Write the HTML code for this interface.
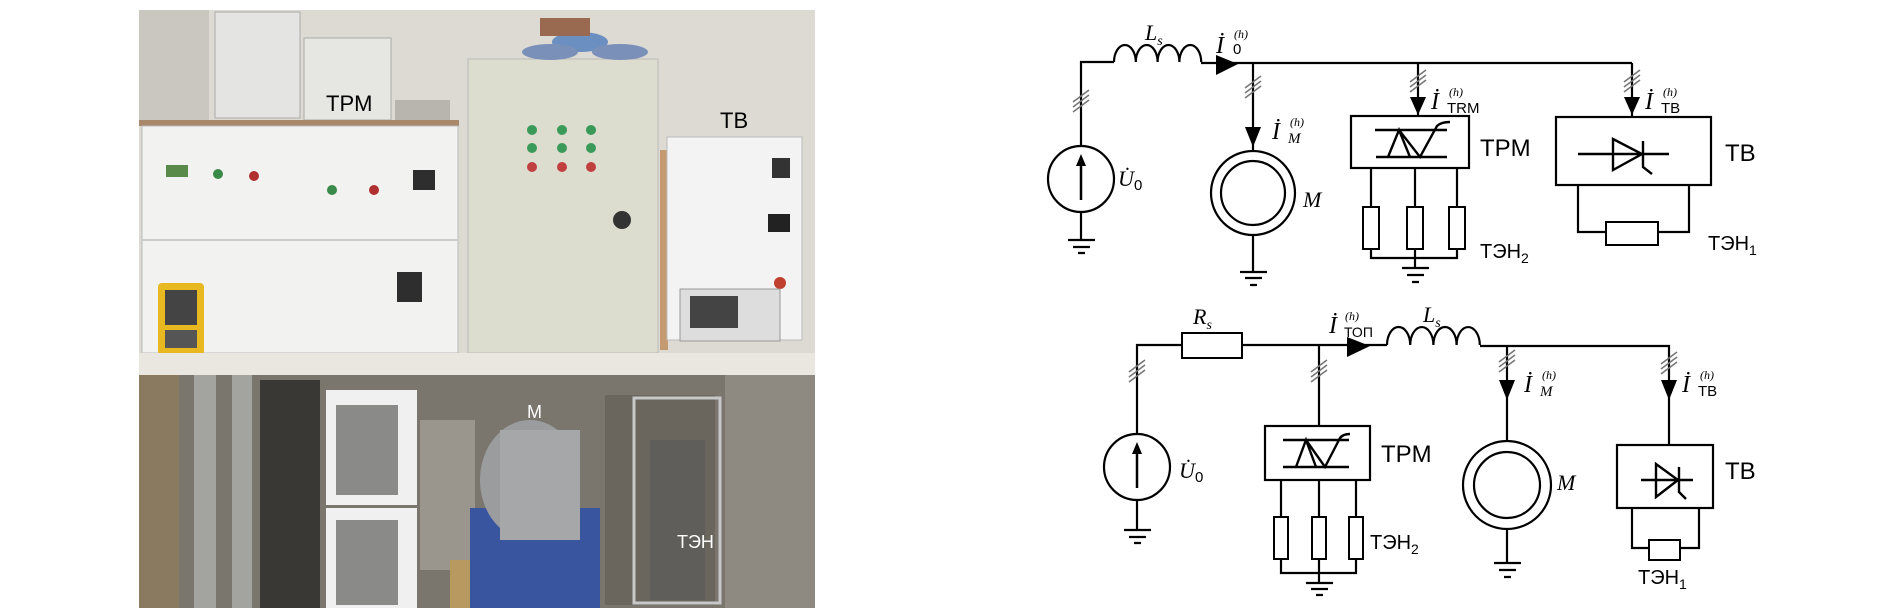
<!DOCTYPE html>
<html><head><meta charset="utf-8"><style>
html,body{margin:0;padding:0;background:#fff;}
svg{display:block}
.w{stroke:#000;stroke-width:2.2;fill:none}
.h{stroke:#777;stroke-width:1.6}
.s{font-family:"Liberation Sans",sans-serif}
.i{font-family:"Liberation Serif",serif;font-style:italic}
</style></head><body>
<svg width="1903" height="611" viewBox="0 0 1903 611" xmlns="http://www.w3.org/2000/svg">
<!-- PHOTO -->
<rect x="139" y="10" width="676" height="598" fill="#cfccc4"/>
<rect x="139" y="10" width="676" height="345" fill="#dcdad3"/>
<rect x="139" y="10" width="70" height="110" fill="#c9c7c0"/>
<rect x="215" y="12" width="85" height="106" fill="#e4e4e2" stroke="#aaa"/>
<rect x="304" y="38" width="87" height="82" fill="#e6e6e3" stroke="#aaa"/>
<rect x="395" y="100" width="55" height="20" fill="#b8b5ae"/>
<text x="326" y="111" class="s" font-size="22">TPM</text>
<rect x="139" y="120" width="320" height="6" fill="#a9876a"/>
<rect x="142" y="126" width="316" height="227" fill="#f2f2f0" stroke="#bbb"/>
<line x1="142" y1="240" x2="458" y2="240" stroke="#ccc" stroke-width="2"/>
<g fill="#2e2e2e"><rect x="166" y="165" width="22" height="12" fill="#5a8a4a"/><rect x="413" y="170" width="22" height="20"/><rect x="397" y="272" width="25" height="30"/></g>
<g fill="#3a8a4a"><circle cx="218" cy="174" r="5"/><circle cx="332" cy="190" r="5"/></g>
<g fill="#b03030"><circle cx="254" cy="176" r="5"/><circle cx="374" cy="190" r="5"/></g>
<rect x="158" y="283" width="46" height="72" rx="4" fill="#e8b820"/>
<rect x="165" y="290" width="32" height="35" fill="#444"/>
<rect x="165" y="330" width="32" height="18" fill="#555"/>
<rect x="468" y="59" width="190" height="294" fill="#dcdccf" stroke="#bbb"/>
<g fill="#3a9a5a"><circle cx="532" cy="130" r="5"/><circle cx="562" cy="130" r="5"/><circle cx="591" cy="130" r="5"/><circle cx="532" cy="148" r="5"/><circle cx="562" cy="148" r="5"/><circle cx="591" cy="148" r="5"/></g>
<g fill="#c04040"><circle cx="532" cy="167" r="5"/><circle cx="562" cy="167" r="5"/><circle cx="591" cy="167" r="5"/></g>
<circle cx="622" cy="220" r="9" fill="#333"/>
<ellipse cx="580" cy="42" rx="28" ry="10" fill="#6a8fc0"/><ellipse cx="550" cy="52" rx="28" ry="8" fill="#7a90b8"/><ellipse cx="620" cy="52" rx="28" ry="8" fill="#7a90b8"/>
<rect x="540" y="18" width="50" height="18" fill="#9a6a50"/>
<rect x="660" y="150" width="8" height="200" fill="#c69a70"/>
<text x="720" y="128" class="s" font-size="22">TB</text>
<rect x="667" y="137" width="135" height="203" fill="#f3f3f3" stroke="#bbb"/>
<rect x="772" y="158" width="18" height="20" fill="#333"/><rect x="768" y="214" width="22" height="18" fill="#222"/><circle cx="780" cy="283" r="6" fill="#c04030"/>
<rect x="680" y="289" width="100" height="52" fill="#ddd" stroke="#999"/><rect x="690" y="296" width="48" height="32" fill="#444"/>
<rect x="139" y="353" width="676" height="22" fill="#e9e7e0"/>
<rect x="139" y="375" width="676" height="233" fill="#7a766e"/>
<rect x="139" y="375" width="40" height="233" fill="#8a7a60"/>
<rect x="194" y="375" width="22" height="233" fill="#a3a39f"/><rect x="232" y="375" width="20" height="233" fill="#a3a39f"/>
<rect x="260" y="380" width="60" height="228" fill="#3a3834"/>
<rect x="326" y="390" width="91" height="115" fill="#f0f0f0"/><rect x="336" y="405" width="62" height="90" fill="#8a8a88"/>
<rect x="326" y="508" width="91" height="100" fill="#f0f0f0"/><rect x="336" y="520" width="62" height="85" fill="#8a8a88"/>
<rect x="420" y="420" width="55" height="150" fill="#9a968e"/>
<rect x="470" y="508" width="130" height="100" fill="#3a55a0"/>
<rect x="450" y="560" width="20" height="48" fill="#b89a60"/>
<ellipse cx="530" cy="480" rx="50" ry="60" fill="#9a9c9e"/><rect x="500" y="430" width="80" height="110" fill="#a5a7a8"/>
<text x="527" y="418" class="s" font-size="18" fill="#fff">M</text>
<rect x="605" y="395" width="110" height="210" fill="#6a665e"/>
<rect x="634" y="398" width="86" height="205" fill="none" stroke="#c8c8c8" stroke-width="3"/>
<rect x="650" y="440" width="55" height="160" fill="#555" opacity=".5"/>
<text x="677" y="548" class="s" font-size="18" fill="#fff">ТЭН</text>
<rect x="725" y="375" width="90" height="233" fill="#8e8a82"/>

<!-- TOP CIRCUIT -->
<g class="w">
<path d="M1081 146 V62 H1114"/>
<path d="M1114 62 a10.9 17 0 0 1 21.8 0 a10.9 17 0 0 1 21.8 0 a10.9 17 0 0 1 21.8 0 a10.9 17 0 0 1 21.8 0"/>
<path d="M1201 63 H1632"/>
<circle cx="1081" cy="179" r="33"/>
<path d="M1081 212 V240"/>
<path d="M1253 63 V150"/>
<circle cx="1253" cy="193" r="42"/><circle cx="1253" cy="193" r="32"/>
<path d="M1253 235 V272"/>
<path d="M1418 63 V116"/>
<rect x="1351" y="116" width="118" height="52"/>
<path d="M1371 168 V258 H1457 V168 M1415 168 V268"/>
<path d="M1632 63 V117"/>
<rect x="1556" y="117" width="155" height="68"/>
<path d="M1578 185 V232 H1689 V185"/>
</g>
<g fill="#fff" stroke="#000" stroke-width="2"><rect x="1363" y="207" width="16" height="42"/><rect x="1407" y="207" width="16" height="42"/><rect x="1449" y="207" width="16" height="42"/><rect x="1606" y="222" width="52" height="23"/></g>
<g stroke="#000" stroke-width="2.2"><path d="M1068 240h27M1073 247h17M1078 253h7"/><path d="M1240 272h27M1245 278h17M1250 285h7"/><path d="M1402 268h27M1407 275h17M1412 282h7"/></g>
<path d="M1081 200 V160" stroke="#000" stroke-width="2.5"/><path d="M1076 166 L1081 154 L1086 166Z"/>
<path d="M1216 55 L1238 64 L1216 75Z"/>
<path d="M1245 127 L1261 127 L1253 147Z"/>
<path d="M1410 97 L1426 97 L1418 115Z"/>
<path d="M1624 97 L1640 97 L1632 115Z"/>
<g class="h"><path d="M1073 112 L1089 100 M1073 107 L1089 95 M1073 102 L1089 90"/>
<path d="M1245 98 L1261 86 M1245 93 L1261 81 M1245 88 L1261 76"/>
<path d="M1410 92 L1426 80 M1410 87 L1426 75 M1410 82 L1426 70"/>
<path d="M1624 92 L1640 80 M1624 87 L1640 75 M1624 82 L1640 70"/></g>
<g stroke="#000" stroke-width="2.4" fill="none"><path d="M1375 130H1447M1376 157H1447M1388 157L1399 130L1410 157M1399 130L1420 157L1437 126Q1441 122 1450 122"/>
<path d="M1578 154H1669M1613 139V170L1642 154Z M1643 141V167L1652 174"/></g>
<text x="1145" y="40" class="i" font-size="22">L<tspan font-size="14" dy="5">s</tspan></text>
<text x="1216" y="53" class="i" font-size="24">İ</text><text x="1233" y="54" class="s" font-size="15">0</text><text x="1234" y="38" class="i" font-size="12">(h)</text>
<text x="1118" y="186" class="i" font-size="22">U̇</text><text x="1134" y="190" class="s" font-size="15">0</text>
<text x="1272" y="139" class="i" font-size="24">İ</text><text x="1288" y="143" class="i" font-size="15">M</text><text x="1290" y="126" class="i" font-size="12">(h)</text>
<text x="1303" y="207" class="i" font-size="22">M</text>
<text x="1431" y="109" class="i" font-size="24">İ</text><text x="1447" y="113" class="s" font-size="15">TRM</text><text x="1449" y="96" class="i" font-size="12">(h)</text>
<text x="1645" y="109" class="i" font-size="24">İ</text><text x="1661" y="113" class="s" font-size="15">TB</text><text x="1663" y="96" class="i" font-size="12">(h)</text>
<text x="1480" y="156" class="s" font-size="24">TPM</text>
<text x="1725" y="161" class="s" font-size="24">TB</text>
<text x="1480" y="258" class="s" font-size="20">ТЭН<tspan font-size="14" dy="5">2</tspan></text>
<text x="1708" y="250" class="s" font-size="20">ТЭН<tspan font-size="14" dy="5">1</tspan></text>

<!-- BOTTOM CIRCUIT -->
<g class="w">
<path d="M1137 434 V345 H1182 M1242 345 H1387"/>
<path d="M1387 345 a11.6 18 0 0 1 23.2 0 a11.6 18 0 0 1 23.2 0 a11.6 18 0 0 1 23.2 0 a11.6 18 0 0 1 23.2 0"/>
<path d="M1480 346 H1669 V445"/>
<circle cx="1137" cy="467" r="33"/>
<path d="M1137 500 V530"/>
<path d="M1319 345 V426"/>
<rect x="1265" y="426" width="105" height="54"/>
<path d="M1281 480 V573 H1356 V480 M1319 480 V583"/>
<path d="M1507 346 V440"/>
<circle cx="1507" cy="485" r="44"/><circle cx="1507" cy="485" r="33"/>
<path d="M1507 529 V563"/>
<rect x="1617" y="445" width="96" height="63"/>
<path d="M1632 508 V548 H1699 V508"/>
</g>
<g fill="#fff" stroke="#000" stroke-width="2"><rect x="1182" y="333" width="60" height="25"/><rect x="1274" y="517" width="14" height="42"/><rect x="1312" y="517" width="14" height="42"/><rect x="1349" y="517" width="14" height="42"/><rect x="1649" y="540" width="31" height="20"/></g>
<g stroke="#000" stroke-width="2.2"><path d="M1124 530h27M1129 537h17M1134 543h7"/><path d="M1306 583h27M1311 589h17M1316 595h7"/><path d="M1494 563h27M1499 570h17M1504 577h7"/></g>
<path d="M1137 488 V448" stroke="#000" stroke-width="2.5"/><path d="M1132 454 L1137 442 L1142 454Z"/>
<path d="M1347 337 L1370 346 L1347 357Z"/>
<path d="M1499 380 L1515 380 L1507 400Z"/>
<path d="M1661 380 L1677 380 L1669 400Z"/>
<g class="h"><path d="M1129 382 L1145 370 M1129 377 L1145 365 M1129 372 L1145 360"/>
<path d="M1311 382 L1327 370 M1311 377 L1327 365 M1311 372 L1327 360"/>
<path d="M1499 372 L1515 360 M1499 367 L1515 355 M1499 362 L1515 350"/>
<path d="M1661 374 L1677 362 M1661 369 L1677 357 M1661 364 L1677 352"/></g>
<g stroke="#000" stroke-width="2.4" fill="none"><path d="M1283 440H1349M1283 467H1349M1296 467L1306 440L1316 467M1306 440L1325 467L1340 438Q1343 434 1350 434"/>
<path d="M1641 480H1693M1656 464V497L1678 480Z M1679 467V492L1686 499"/></g>
<text x="1193" y="324" class="i" font-size="22">R<tspan font-size="14" dy="5">s</tspan></text>
<text x="1423" y="322" class="i" font-size="22">L<tspan font-size="14" dy="5">s</tspan></text>
<text x="1329" y="333" class="i" font-size="24">İ</text><text x="1344" y="337" class="s" font-size="14">ТОП</text><text x="1345" y="320" class="i" font-size="12">(h)</text>
<text x="1179" y="478" class="i" font-size="22">U̇</text><text x="1195" y="482" class="s" font-size="15">0</text>
<text x="1524" y="392" class="i" font-size="24">İ</text><text x="1540" y="396" class="i" font-size="15">M</text><text x="1542" y="379" class="i" font-size="12">(h)</text>
<text x="1682" y="392" class="i" font-size="24">İ</text><text x="1698" y="396" class="s" font-size="15">TB</text><text x="1700" y="379" class="i" font-size="12">(h)</text>
<text x="1557" y="490" class="i" font-size="22">M</text>
<text x="1381" y="462" class="s" font-size="24">TPM</text>
<text x="1725" y="479" class="s" font-size="24">TB</text>
<text x="1370" y="549" class="s" font-size="20">ТЭН<tspan font-size="14" dy="5">2</tspan></text>
<text x="1638" y="584" class="s" font-size="20">ТЭН<tspan font-size="14" dy="5">1</tspan></text>
</svg>
</body></html>
